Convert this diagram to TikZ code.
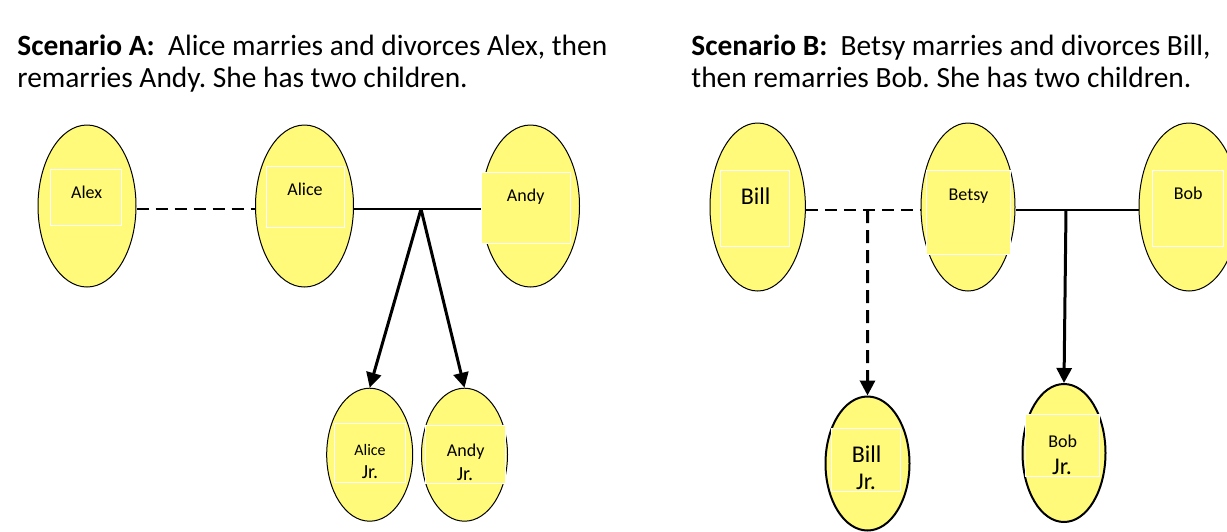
\documentclass[tikz,border=0pt]{standalone}
\usepackage{fontspec}
\setmainfont{Carlito}
\usetikzlibrary{shapes.geometric,arrows.meta}
\definecolor{pyellow}{RGB}{255,250,122}
\frenchspacing
\tikzset{
  person/.style={ellipse,draw,fill=pyellow,line width=.5pt,inner sep=0pt,minimum width=49pt,minimum height=81pt},
  kid/.style={person,minimum width=43pt,minimum height=66.5pt},
  tbox/.style={draw=white,fill=pyellow,line width=.5pt,inner sep=0pt},
  tie/.style={line width=1pt},
  split/.style={line width=1.2pt,dash pattern=on 6pt off 3.5pt},
  kidline/.style={line width=1.5pt,-{Triangle[length=7.5pt,width=7.5pt]}},
  pname/.style={anchor=base,inner sep=0pt,font=\fontsize{9}{10}\selectfont},
  heading/.style={anchor=north west,align=left,inner sep=0pt,font=\fontsize{14.7}{16}\selectfont}
}
\begin{document}
\begin{tikzpicture}[x=.5pt,y=-.5pt]
\useasboundingbox (0,0) rectangle (1227,531);
% headings
\node[heading] (headA) at (17,34) {\textbf{Scenario A:}\ \ Alice marries and divorces Alex, then\\remarries Andy. She has two children.};
\node[heading] (headB) at (691,34) {\textbf{Scenario B:}\ \ Betsy marries and divorces Bill,\\then remarries Bob. She has two children.};

% scenario A
\node[person] (alex) at (87,206) {};
\node[person] (alice) at (304.5,206) {};
\node[person] (andy) at (530.5,206) {};
\node[kid] (alicejr) at (369.7,454.7) {};
\node[kid] (andyjr) at (464.5,454.7) {};
\node[tbox,minimum width=35.2pt,minimum height=27.8pt] (alexbox) at (85.9,197.2) {};
\node[tbox,minimum width=39.2pt,minimum height=30.3pt] (alicebox) at (305.2,197) {};
\node[tbox,minimum width=44.2pt,minimum height=35.3pt] (andybox) at (525.9,208) {};
\node[tbox,minimum width=35.7pt,minimum height=29.7pt] (alicejrbox) at (370,453) {};
\node[tbox,minimum width=39.7pt,minimum height=29.2pt] (andyjrbox) at (465.4,454.2) {};
\node[pname] (alexname) at (86.7,198.3) {Alex};
\node[pname] (alicename) at (305,195.3) {Alice};
\node[pname] (andyname) at (525.7,201) {Andy};
\node[pname,font=\fontsize{8}{9}\selectfont] (alicejrname) at (370,455) {Alice};
\node[pname,font=\fontsize{10}{11}\selectfont] (alicejrsuffix) at (370,478.3) {Jr.};
\node[pname] (andyjrname) at (465.7,456.7) {Andy};
\node[pname,font=\fontsize{10}{11}\selectfont] (andyjrsuffix) at (465,480) {Jr.};
\coordinate (junA) at (421,209);
\draw[split] (alex.east |- junA) -- (alice.west |- junA);
\draw[tie] (alice.east |- junA) -- (andybox.west |- junA);
\draw[kidline] (junA) -- (alicejr.north);
\draw[kidline] (junA) -- (andyjr.north);

% scenario B
\node[person,minimum width=47.7pt,minimum height=84pt] (bill) at (757.7,207) {};
\node[person,minimum width=47pt,minimum height=84pt] (betsy) at (968,207) {};
\node[person,minimum width=50pt,minimum height=84pt] (bob) at (1189,207) {};
\node[kid,line width=1pt,minimum width=42pt,minimum height=67pt] (billjr) at (867.5,463.5) {};
\node[kid,line width=1pt,minimum width=41.5pt,minimum height=69pt] (bobjr) at (1064,453) {};
\node[tbox,minimum width=34.2pt,minimum height=37.9pt] (billbox) at (754.9,208.2) {};
\node[tbox,minimum width=42pt,minimum height=41.9pt] (betsybox) at (968,212.2) {};
\node[tbox,minimum width=35.5pt,minimum height=37.9pt] (bobbox) at (1187.8,208.2) {};
\node[tbox,minimum width=34.5pt,minimum height=31.3pt] (billjrbox) at (866.2,460) {};
\node[tbox,minimum width=36.7pt,minimum height=31pt] (bobjrbox) at (1062.4,445) {};
\node[pname,font=\fontsize{12}{13}\selectfont] (billname) at (755.7,204) {Bill};
\node[pname] (betsyname) at (968.4,200) {Betsy};
\node[pname] (bobname) at (1188.3,199.3) {Bob};
\node[pname,font=\fontsize{12}{13}\selectfont] (billjrname) at (866.7,462.3) {Bill};
\node[pname,font=\fontsize{12}{13}\selectfont] (billjrsuffix) at (866,489.3) {Jr.};
\node[pname] (bobjrname) at (1062.7,447.7) {Bob};
\node[pname,font=\fontsize{12}{13}\selectfont] (bobjrsuffix) at (1062,474) {Jr.};
\coordinate (junB1) at (867.7,210);
\coordinate (junB2) at (1066,210);
\draw[split] (bill.east |- junB1) -- (betsy.west |- junB1);
\draw[tie] (betsy.east |- junB2) -- (bob.west |- junB2);
\draw[kidline,dash pattern=on 6.5pt off 3.5pt] (junB1) -- (billjr.north);
\draw[kidline] (junB2) -- (bobjr.north);
\end{tikzpicture}
\end{document}
